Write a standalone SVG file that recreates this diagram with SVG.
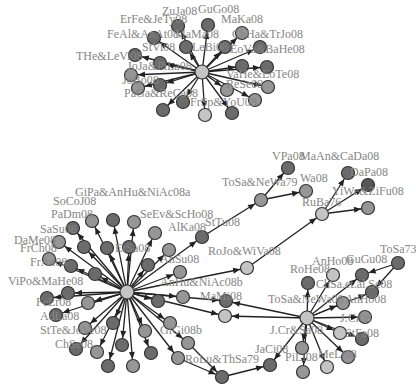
<svg xmlns="http://www.w3.org/2000/svg" width="416" height="385" viewBox="0 0 416 385">
<defs>
<marker id="ah" markerUnits="userSpaceOnUse" markerWidth="8" markerHeight="6" refX="14" refY="3" orient="auto" overflow="visible"><path d="M0,0 L7,3 L0,6 z" fill="#222"/></marker>
<style>
.e line{stroke:#222;stroke-width:1.3;marker-end:url(#ah)}
circle{stroke:#333;stroke-width:1.2}
.l{fill:#c4c4c4}.m{fill:#969696}.d{fill:#6b6b6b}
text{font-family:"Liberation Serif","Times New Roman",serif;font-size:12px;fill:#858585}
</style>
</defs>
<rect width="416" height="385" fill="#fff"/>
<g id="connectors" class="e">
<line x1="202" y1="72" x2="178" y2="26"/><line x1="202" y1="72" x2="208" y2="25"/><line x1="202" y1="72" x2="154" y2="38"/><line x1="202" y1="72" x2="242" y2="33"/><line x1="202" y1="72" x2="225" y2="47"/><line x1="202" y1="72" x2="186" y2="47"/><line x1="202" y1="72" x2="260" y2="47"/><line x1="202" y1="72" x2="135" y2="55"/><line x1="202" y1="72" x2="160" y2="63"/><line x1="202" y1="72" x2="242" y2="66"/><line x1="202" y1="72" x2="267" y2="67"/><line x1="202" y1="72" x2="131" y2="75"/><line x1="202" y1="72" x2="160" y2="85"/><line x1="202" y1="72" x2="138" y2="88"/><line x1="202" y1="72" x2="227" y2="90"/><line x1="202" y1="72" x2="268" y2="87"/><line x1="202" y1="72" x2="183" y2="102"/><line x1="202" y1="72" x2="163" y2="110"/><line x1="202" y1="72" x2="205" y2="115"/><line x1="202" y1="72" x2="232" y2="113"/><line x1="202" y1="72" x2="255" y2="100"/>
<line x1="127" y1="292" x2="92" y2="221"/><line x1="127" y1="292" x2="113" y2="220"/><line x1="127" y1="292" x2="134" y2="222"/><line x1="127" y1="292" x2="73" y2="228"/><line x1="127" y1="292" x2="155" y2="233"/><line x1="127" y1="292" x2="59" y2="242"/><line x1="127" y1="292" x2="84" y2="247"/><line x1="127" y1="292" x2="107" y2="248"/><line x1="127" y1="292" x2="129" y2="247"/><line x1="127" y1="292" x2="169" y2="250"/><line x1="127" y1="292" x2="49" y2="259"/><line x1="127" y1="292" x2="71" y2="266"/><line x1="127" y1="292" x2="148" y2="265"/><line x1="127" y1="292" x2="95" y2="274"/><line x1="127" y1="292" x2="180" y2="272"/><line x1="127" y1="292" x2="47" y2="298"/><line x1="127" y1="292" x2="68" y2="293"/><line x1="127" y1="292" x2="88" y2="303"/><line x1="127" y1="292" x2="56" y2="315"/><line x1="127" y1="292" x2="158" y2="301"/><line x1="127" y1="292" x2="183" y2="297"/><line x1="127" y1="292" x2="85" y2="328"/><line x1="127" y1="292" x2="113" y2="323"/><line x1="127" y1="292" x2="145" y2="331"/><line x1="127" y1="292" x2="170" y2="323"/><line x1="127" y1="292" x2="76" y2="349"/><line x1="127" y1="292" x2="97" y2="352"/><line x1="127" y1="292" x2="122" y2="345"/><line x1="127" y1="292" x2="151" y2="353"/><line x1="127" y1="292" x2="108" y2="366"/><line x1="127" y1="292" x2="133" y2="366"/><line x1="127" y1="292" x2="188" y2="343"/><line x1="127" y1="292" x2="178" y2="358"/><line x1="127" y1="292" x2="202" y2="237"/><line x1="127" y1="292" x2="226" y2="301"/><line x1="127" y1="292" x2="225" y2="316"/><line x1="127" y1="292" x2="247" y2="268"/>
<line x1="202" y1="237" x2="261" y2="200"/><line x1="261" y1="200" x2="288" y2="168"/><line x1="261" y1="200" x2="306" y2="191"/><line x1="247" y1="268" x2="322" y2="214"/><line x1="322" y1="214" x2="348" y2="173"/><line x1="322" y1="214" x2="368" y2="185"/><line x1="322" y1="214" x2="368" y2="208"/>
<line x1="307" y1="318" x2="333" y2="275"/><line x1="307" y1="318" x2="362" y2="275"/><line x1="307" y1="318" x2="308" y2="283"/><line x1="307" y1="318" x2="372" y2="292"/><line x1="307" y1="318" x2="343" y2="303"/><line x1="307" y1="318" x2="365" y2="317"/><line x1="307" y1="318" x2="340" y2="333"/><line x1="307" y1="318" x2="362" y2="339"/><line x1="307" y1="318" x2="302" y2="348"/><line x1="307" y1="318" x2="348" y2="357"/><line x1="307" y1="318" x2="303" y2="372"/><line x1="307" y1="318" x2="327" y2="367"/><line x1="307" y1="318" x2="270" y2="365"/><line x1="307" y1="318" x2="226" y2="301"/><line x1="307" y1="318" x2="225" y2="316"/>
<line x1="398" y1="263" x2="362" y2="275"/><line x1="398" y1="263" x2="372" y2="292"/>
<line x1="188" y1="343" x2="222" y2="377"/><line x1="178" y1="358" x2="222" y2="377"/><line x1="222" y1="377" x2="270" y2="365"/>
</g>
<g id="n-top-hub"><circle class="l" cx="202" cy="72" r="7"/></g>
<g id="n-top"><circle class="d" cx="178" cy="26" r="6.5"/><circle class="d" cx="208" cy="25" r="6.5"/><circle class="d" cx="154" cy="38" r="6.5"/><circle class="m" cx="242" cy="33" r="6.5"/><circle class="d" cx="225" cy="47" r="6.5"/><circle class="d" cx="186" cy="47" r="6.5"/><circle class="d" cx="260" cy="47" r="6.5"/><circle class="d" cx="135" cy="55" r="6.5"/><circle class="d" cx="160" cy="63" r="6.5"/><circle class="d" cx="242" cy="66" r="6.5"/><circle class="d" cx="267" cy="67" r="6.5"/><circle class="m" cx="131" cy="75" r="6.5"/><circle class="d" cx="160" cy="85" r="6.5"/><circle class="m" cx="138" cy="88" r="6.5"/><circle class="m" cx="227" cy="90" r="6.5"/><circle class="m" cx="268" cy="87" r="6.5"/><circle class="d" cx="183" cy="102" r="6.5"/><circle class="d" cx="163" cy="110" r="6.5"/><circle class="l" cx="205" cy="115" r="6.5"/><circle class="d" cx="232" cy="113" r="6.5"/><circle class="m" cx="255" cy="100" r="6.5"/></g>
<g id="n-hub"><circle class="l" cx="127" cy="292" r="7"/></g>
<g id="n-left"><circle class="m" cx="92" cy="221" r="6.5"/><circle class="d" cx="113" cy="220" r="6.5"/><circle class="m" cx="134" cy="222" r="6.5"/><circle class="d" cx="73" cy="228" r="6.5"/><circle class="m" cx="155" cy="233" r="6.5"/><circle class="m" cx="59" cy="242" r="6.5"/><circle class="d" cx="84" cy="247" r="6.5"/><circle class="d" cx="107" cy="248" r="6.5"/><circle class="d" cx="129" cy="247" r="6.5"/><circle class="m" cx="169" cy="250" r="6.5"/><circle class="m" cx="49" cy="259" r="6.5"/><circle class="d" cx="71" cy="266" r="6.5"/><circle class="d" cx="148" cy="265" r="6.5"/><circle class="d" cx="95" cy="274" r="6.5"/><circle class="m" cx="180" cy="272" r="6.5"/><circle class="d" cx="47" cy="298" r="6.5"/><circle class="d" cx="68" cy="293" r="6.5"/><circle class="m" cx="88" cy="303" r="6.5"/><circle class="d" cx="56" cy="315" r="6.5"/><circle class="d" cx="158" cy="301" r="6.5"/><circle class="m" cx="183" cy="297" r="6.5"/><circle class="m" cx="85" cy="328" r="6.5"/><circle class="d" cx="113" cy="323" r="6.5"/><circle class="m" cx="145" cy="331" r="6.5"/><circle class="m" cx="170" cy="323" r="6.5"/><circle class="d" cx="76" cy="349" r="6.5"/><circle class="m" cx="97" cy="352" r="6.5"/><circle class="d" cx="122" cy="345" r="6.5"/><circle class="d" cx="151" cy="353" r="6.5"/><circle class="d" cx="108" cy="366" r="6.5"/><circle class="m" cx="133" cy="366" r="6.5"/><circle class="m" cx="188" cy="343" r="6.5"/><circle class="m" cx="178" cy="358" r="6.5"/></g>
<g id="n-sttu"><circle class="d" cx="202" cy="237" r="6.5"/></g>
<g id="n-tosanewa"><circle class="m" cx="261" cy="200" r="6.5"/></g>
<g id="n-vpa"><circle class="d" cx="288" cy="168" r="6.5"/></g>
<g id="n-wa08"><circle class="m" cx="306" cy="191" r="6.5"/></g>
<g id="n-roj"><circle class="l" cx="247" cy="268" r="6.5"/></g>
<g id="n-ruba"><circle class="l" cx="322" cy="214" r="6.5"/></g>
<g id="n-maan"><circle class="d" cx="348" cy="173" r="6.5"/></g>
<g id="n-yiwe"><circle class="d" cx="368" cy="185" r="6.5" style="fill:#555"/></g>
<g id="n-r3"><circle class="m" cx="368" cy="208" r="6.5"/></g>
<g id="n-mami"><circle class="d" cx="226" cy="301" r="6.5"/></g>
<g id="n-l2"><circle class="l" cx="225" cy="316" r="6.5"/></g>
<g id="n-tosa73"><circle class="d" cx="398" cy="263" r="6.5"/></g>
<g id="n-hub2"><circle class="l" cx="307" cy="318" r="7"/></g>
<g id="n-right"><circle class="l" cx="333" cy="275" r="6.5"/><circle class="d" cx="362" cy="275" r="6.5"/><circle class="d" cx="308" cy="283" r="6.5"/><circle class="d" cx="372" cy="292" r="6.5"/><circle class="m" cx="343" cy="303" r="6.5"/><circle class="m" cx="365" cy="317" r="6.5"/><circle class="l" cx="340" cy="333" r="6.5"/><circle class="d" cx="362" cy="339" r="6.5"/><circle class="m" cx="302" cy="348" r="6.5"/><circle class="m" cx="348" cy="357" r="6.5"/><circle class="m" cx="303" cy="372" r="6.5"/><circle class="l" cx="327" cy="367" r="6.5"/></g>
<g id="n-jaci"><circle class="d" cx="270" cy="365" r="6.5"/></g>
<g id="n-rolu"><circle class="d" cx="222" cy="377" r="6.5"/></g>
<g id="labels">
<text x="162" y="15">ZuJa08</text><text x="198" y="13">GuGo08</text>
<text x="120" y="23">ErFe&amp;JeTy08</text><text x="221" y="23">MaKa08</text>
<text x="107" y="38">FeAl&amp;AnAt08</text><text x="175" y="38">MaMa08</text><text x="232" y="38">ChHa&amp;TrJo08</text>
<text x="76" y="60">THe&amp;LeVi08</text><text x="142" y="51">StVi08</text><text x="192" y="51">LeBi08</text><text x="230" y="53">EoVa&amp;BaHe08</text>
<text x="127" y="70">JoJa&amp;PiLa08</text><text x="226" y="78">VaHe&amp;EoTe08</text>
<text x="122" y="84">JoBo08</text><text x="226" y="88">ReSe08</text>
<text x="124" y="97">PaGa&amp;ReCa08</text><text x="190" y="106">FrSp&amp;YoU08</text>
<text x="53" y="205">SoCoJ08</text><text x="75" y="196">GiPa&amp;AnHu&amp;NiAc08a</text>
<text x="51" y="218">PaDm08</text><text x="140" y="218">SeEv&amp;ScHo08</text>
<text x="40" y="233">SaSu08</text><text x="168" y="231">AlKa08</text><text x="205" y="226">StTu08</text>
<text x="14" y="244">DaMe08</text><text x="20" y="252">FrCh08</text><text x="115" y="252">ErSa08</text>
<text x="30" y="266">FrAn08</text><text x="160" y="263">AnSu08</text>
<text x="8" y="285">ViPo&amp;MaHe08</text><text x="160" y="286">AnHu&amp;NiAc08b</text>
<text x="36" y="306">FeEr08</text>
<text x="40" y="320">AdLa08</text><text x="200" y="300">MaMi08</text>
<text x="40" y="334">StTe&amp;JoVe08</text><text x="160" y="334">GiGi08b</text>
<text x="55" y="348">ChSe08</text>
<text x="185" y="363">RoLu&amp;ThSa79</text>
<text x="272" y="160">VPa08</text><text x="300" y="160">MaAn&amp;CaDa08</text>
<text x="222" y="186">ToSa&amp;NeWa79</text><text x="300" y="182">Wa08</text><text x="350" y="176">DaPa08</text>
<text x="332" y="195">YiWe&amp;ZiFu08</text><text x="302" y="206">RuBa76</text>
<text x="208" y="255">RoJo&amp;WiVa08</text>
<text x="380" y="253">ToSa73</text><text x="312" y="265">AnHo08</text><text x="346" y="263">GuGu08</text>
<text x="290" y="273">RoHe08</text><text x="316" y="288">ChSa.et.al.Se08</text>
<text x="268" y="303">ToSa&amp;NeWa08</text><text x="345" y="303">AnHo08</text>
<text x="340" y="322">J.Cr08</text><text x="270" y="334">J.Cr&amp;Sa08</text><text x="345" y="337">StFa08</text>
<text x="255" y="353">JaCi08</text><text x="285" y="361">PiLi08</text><text x="318" y="358">MeLi08</text>
</g>
</svg>
